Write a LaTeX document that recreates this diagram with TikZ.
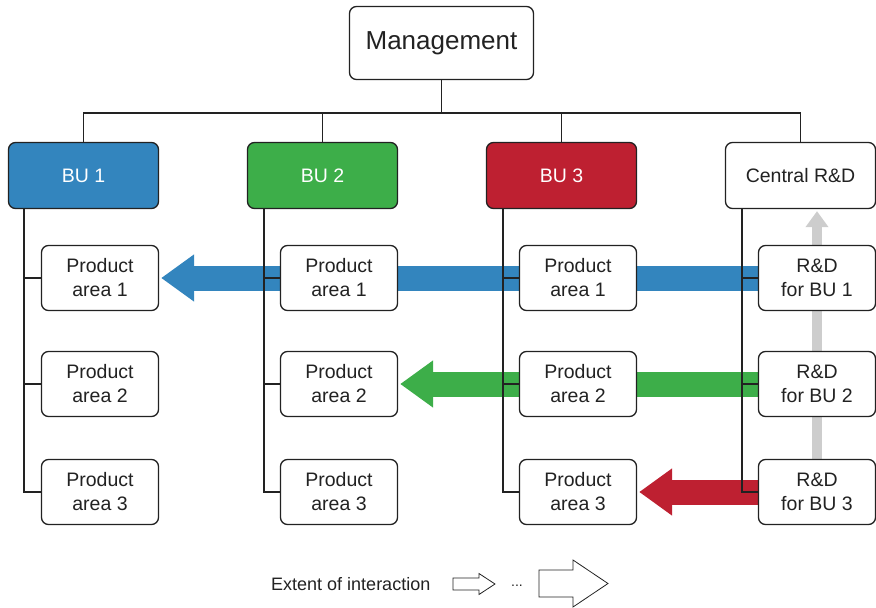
\documentclass[tikz,border=0pt]{standalone}
\usepackage{fontspec}
\setmainfont{Liberation Sans}
\usetikzlibrary{arrows.meta,backgrounds}
\definecolor{bublue}{RGB}{51,133,190}
\definecolor{bugreen}{RGB}{61,174,73}
\definecolor{bured}{RGB}{190,32,49}
\definecolor{rdgray}{RGB}{205,205,205}
\definecolor{ink}{RGB}{34,34,34}

\begin{document}
\begin{tikzpicture}[x=1pt,y=1pt]
\tikzstyle{every node}+=[inner sep=0pt, text=ink]
\tikzstyle{unit}=[draw=ink, line width=1.3pt, rounded corners=7pt, fill=white, minimum width=150pt, minimum height=66pt, align=center, font=\fontsize{19.5}{24}\selectfont]
\tikzstyle{area}=[unit, minimum width=117pt, minimum height=65pt]
\tikzstyle{link}=[draw=ink, line width=1.1pt]
\tikzstyle{flow}=[line width=25pt, -{Triangle[length=33pt,width=45pt]}, shorten >=2pt]
\useasboundingbox (0,0) rectangle (876,-608);
\node [unit, minimum width=184pt, minimum height=73pt, font=\fontsize{26}{30}\selectfont] (mgmt) at (441.5,-43) {Management};
\node [unit, fill=bublue, text=white] (bu1) at (83.5,-175.5) {BU 1};
\node [unit, fill=bugreen, text=white] (bu2) at (322.5,-175.5) {BU 2};
\node [unit, fill=bured, text=white] (bu3) at (561.5,-175.5) {BU 3};
\node [unit] (crd) at (800.5,-175.5) {Central R\&D};
\node [area] (bu1a1) at (100,-278) {Product\\area 1};
\node [area] (bu1a2) at (100,-384) {Product\\area 2};
\node [area] (bu1a3) at (100,-492) {Product\\area 3};
\node [area] (bu2a1) at (339,-278) {Product\\area 1};
\node [area] (bu2a2) at (339,-384) {Product\\area 2};
\node [area] (bu2a3) at (339,-492) {Product\\area 3};
\node [area] (bu3a1) at (578,-278) {Product\\area 1};
\node [area] (bu3a2) at (578,-384) {Product\\area 2};
\node [area] (bu3a3) at (578,-492) {Product\\area 3};
\node [area] (rd1) at (817,-278) {R\&D\\for BU 1};
\node [area] (rd2) at (817,-384) {R\&D\\for BU 2};
\node [area] (rd3) at (817,-492) {R\&D\\for BU 3};
\begin{pgfonlayer}{background}
\draw [flow, bublue] (rd1.west) -- (bu1a1.east);
\draw [flow, bugreen] (rd2.west) -- (bu2a2.east);
\draw [flow, bured] (rd3.west) -- (bu3a3.east);
\draw [rdgray, line width=10pt, -{Triangle[length=16pt,width=22pt]}, shorten >=2pt] (rd3.north) -- (rd3.north |- crd.south);
\end{pgfonlayer}
\coordinate (bar) at (0,-113);
\draw [link] (mgmt.south) -- (mgmt.south |- bar);
\draw [link] (bu1.north) -- (bu1.north |- bar) -- (crd.north |- bar) -- (crd.north);
\draw [link] (bu2.north) -- (bu2.north |- bar);
\draw [link] (bu3.north) -- (bu3.north |- bar);
\coordinate (s1) at (24,-209);
\coordinate (s2) at (264,-209);
\coordinate (s3) at (503,-209);
\coordinate (s4) at (742,-209);
\draw [link] (s1) |- (bu1a3.west);
\draw [link] (s1 |- bu1a1.west) -- (bu1a1.west);
\draw [link] (s1 |- bu1a2.west) -- (bu1a2.west);
\draw [link] (s2) |- (bu2a3.west);
\draw [link] (s2 |- bu2a1.west) -- (bu2a1.west);
\draw [link] (s2 |- bu2a2.west) -- (bu2a2.west);
\draw [link] (s3) |- (bu3a3.west);
\draw [link] (s3 |- bu3a1.west) -- (bu3a1.west);
\draw [link] (s3 |- bu3a2.west) -- (bu3a2.west);
\draw [link] (s4) |- (rd3.west);
\draw [link] (s4 |- rd1.west) -- (rd1.west);
\draw [link] (s4 |- rd2.west) -- (rd2.west);
\node [anchor=west, font=\fontsize{18}{22}\selectfont] (extent) at (271,-584) {Extent of interaction};
\node [font=\fontsize{14}{16}\selectfont] (dots) at (517,-586) {...};
\coordinate (small) at (453,-584);
\draw [ink, line width=0.8pt] (small) ++(0,6) -- ++(26,0) -- ++(0,4.5) -- ++(16,-10.5) -- ++(-16,-10.5) -- ++(0,4.5) -- ++(-26,0) -- cycle;
\coordinate (large) at (539,-583.5);
\draw [ink, line width=0.8pt] (large) ++(0,13.5) -- ++(34,0) -- ++(0,10) -- ++(35,-23.5) -- ++(-35,-23.5) -- ++(0,10) -- ++(-34,0) -- cycle;
\end{tikzpicture}
\end{document}
